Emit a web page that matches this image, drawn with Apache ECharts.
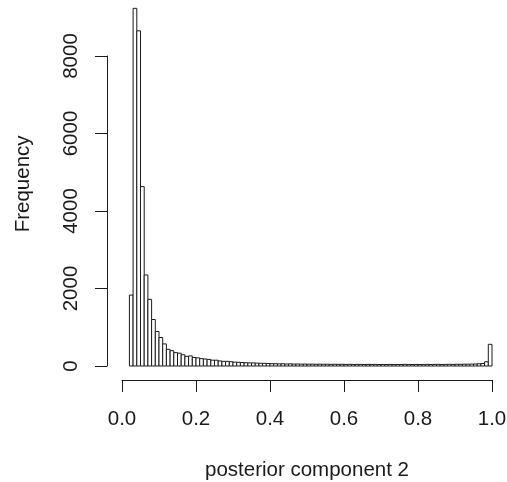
<!DOCTYPE html>
<html><head><meta charset="utf-8">
<script src="https://cdn.jsdelivr.net/npm/echarts@6/dist/echarts.min.js"></script>
<style>html,body{margin:0;padding:0;background:#fff}#c{width:507px;height:482px}</style>
</head><body><div id="c"></div>
<script>
var binStart = [0.02,0.03,0.04,0.05,0.06,0.07,0.08,0.09,0.10,0.11,0.12,0.13,0.14,0.15,0.16,0.17,0.18,0.19,0.20,
0.21,0.22,0.23,0.24,0.25,0.26,0.27,0.28,0.29,0.30,0.31,0.32,0.33,0.34,0.35,0.36,0.37,0.38,0.39,0.40,
0.41,0.42,0.43,0.44,0.45,0.46,0.47,0.48,0.49,0.50,0.51,0.52,0.53,0.54,0.55,0.56,0.57,0.58,0.59,0.60,
0.61,0.62,0.63,0.64,0.65,0.66,0.67,0.68,0.69,0.70,0.71,0.72,0.73,0.74,0.75,0.76,0.77,0.78,0.79,0.80,
0.81,0.82,0.83,0.84,0.85,0.86,0.87,0.88,0.89,0.90,0.91,0.92,0.93,0.94,0.95,0.96,0.97,0.98,0.99];
var binWidth = 0.01;
var counts = [1830,9230,8650,4630,2350,1720,1200,890,735,570,430,395,345,330,290,250,260,220,210,
190,180,170,150,150,130,120,120,110,100,95,90,85,80,80,75,70,70,65,60,
60,55,58,52,55,50,52,48,50,47,48,45,47,44,46,43,45,42,44,41,
43,40,42,41,39,42,40,41,38,40,39,41,38,40,39,42,40,38,41,39,
40,42,39,41,43,40,42,44,41,45,44,47,46,50,52,58,65,110,560];
var xTicks = {min:0, max:1, interval:0.2};
var yTicks = {min:0, max:8000, interval:2000};
var xLabel = 'posterior component 2';
var yLabel = 'Frequency';

var data = binStart.map(function(s,i){return [s, s+binWidth, counts[i]];});
var font = 'Liberation Sans, Arial, Helvetica, sans-serif';
var fs = 20.5;
var ink = '#1a1a1a';
var chart = echarts.init(document.getElementById('c'), null, {renderer:'canvas'});
chart.setOption({
  backgroundColor:'#fff',
  animation:false,
  grid:[
    {left:122, right:15, top:1.75, bottom:116, outerBoundsMode:'none', containLabel:false},
    {left:122, right:15, top:56, bottom:116, outerBoundsMode:'none', containLabel:false}
  ],
  xAxis:[
    {gridIndex:0, type:'value', min:0, max:1, show:false},
    {gridIndex:1, type:'value', min:xTicks.min, max:xTicks.max, interval:xTicks.interval, position:'bottom', offset:14,
     axisLine:{show:true, onZero:false, lineStyle:{color:ink, width:1}},
     axisTick:{show:true, length:12, lineStyle:{color:ink}},
     splitLine:{show:false},
     axisLabel:{margin:29, fontSize:fs, fontFamily:font, color:ink, formatter:function(v){return v.toFixed(1);}},
     name:xLabel, nameLocation:'middle', nameGap:80, nameTextStyle:{fontSize:fs, fontFamily:font, color:ink}}
  ],
  yAxis:[
    {gridIndex:0, type:'value', min:0, max:9400, axisLine:{show:false, onZero:false}, axisTick:{show:false}, axisLabel:{show:false}, splitLine:{show:false},
     name:yLabel, nameLocation:'middle', nameGap:88, nameRotate:90, nameTextStyle:{fontSize:fs, fontFamily:font, color:ink}},
    {gridIndex:1, type:'value', min:yTicks.min, max:yTicks.max, interval:yTicks.interval, position:'left', offset:15,
     axisLine:{show:true, onZero:false, lineStyle:{color:ink, width:1}},
     axisTick:{show:true, length:12, lineStyle:{color:ink}},
     splitLine:{show:false},
     axisLabel:{margin:25, rotate:90, fontSize:fs, fontFamily:font, color:ink, formatter:function(v){return String(v);}}}
  ],
  series:[{
    type:'custom', xAxisIndex:0, yAxisIndex:0, data:data,
    renderItem:function(params, api){
      var p0 = api.coord([api.value(0), 0]);
      var p1 = api.coord([api.value(1), api.value(2)]);
      return {type:'rect', shape:{x:p0[0], y:p1[1], width:p1[0]-p0[0], height:p0[1]-p1[1]},
        style:{fill:'#fff', stroke:ink, lineWidth:1}};
    }
  }]
});
</script></body></html>
